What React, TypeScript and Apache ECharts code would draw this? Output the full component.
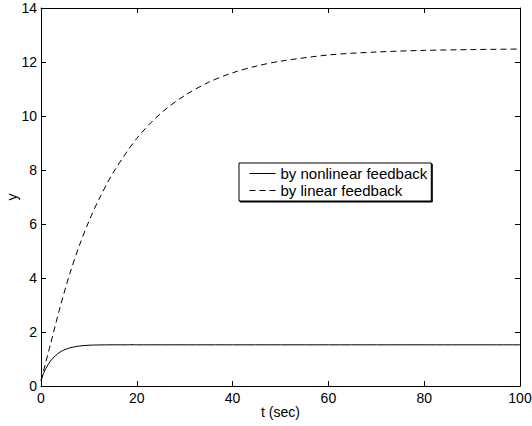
import React, { useEffect, useRef } from "react";
import * as echarts from "echarts";

const tNonlinear = [0, 0.5, 1, 2, 3, 4, 5, 6, 7, 8, 10, 12, 15, 18, 19, 20, 25, 40, 60, 80, 100];
const yNonlinear = [0.2, 0.45, 0.65, 0.93, 1.12, 1.26, 1.35, 1.41, 1.45, 1.48, 1.51, 1.52, 1.525, 1.525, 1.53, 1.525, 1.525, 1.525, 1.525, 1.525, 1.525];
const tLinear = [0, 2, 4, 6, 8, 10, 12, 15, 20, 25, 30, 35, 40, 45, 50, 60, 70, 80, 90, 100];
const yLinear = [0.2, 1.56, 2.93, 4.15, 5.2, 6.1, 6.88, 7.88, 9.17, 10.1, 10.76, 11.25, 11.6, 11.85, 12.03, 12.26, 12.37, 12.43, 12.46, 12.48];
const seriesNames = ["by nonlinear feedback", "by linear feedback"];
const xLabel = "t (sec)";
const yLabel = "y";

const FONT = "Liberation Sans, Arial, Helvetica, sans-serif";

export default function App() {
  const ref = useRef<HTMLDivElement>(null);
  useEffect(() => {
    if (!ref.current) return;
    const chart = echarts.init(ref.current, null, { renderer: "svg" });
    const axisCommon = {
      axisLine: { show: true, onZero: false, lineStyle: { color: "#000", width: 1 } },
      axisTick: { show: true, inside: true, length: 5, lineStyle: { color: "#000" } },
      splitLine: { show: false },
    };
    chart.setOption({
      animation: false,
      backgroundColor: "#fff",
      textStyle: { fontFamily: FONT },
      grid: { left: 41, top: 8, right: 12, bottom: 40, containLabel: false, outerBoundsMode: "none" },
      legend: {
        orient: "vertical",
        left: 239,
        top: 163,
        borderColor: "#000",
        borderWidth: 1,
        backgroundColor: "#fff",
        padding: [3, 4, 3, 10],
        itemWidth: 26,
        itemHeight: 10,
        itemGap: 2,
        borderRadius: 0,
        textStyle: { fontSize: 15, color: "#000", fontFamily: FONT },
        data: seriesNames,
        itemStyle: { opacity: 0 },
        lineStyle: { width: 1 },
        shadowColor: "rgba(0,0,0,1)",
        shadowOffsetX: 1,
        shadowOffsetY: 1,
      },
      xAxis: [
        {
          type: "value",
          min: 0,
          max: 100,
          interval: 20,
          position: "bottom",
          name: xLabel,
          nameLocation: "middle",
          nameGap: 19,
          nameMoveOverlap: false,
          nameTextStyle: { fontSize: 14, color: "#000", fontFamily: FONT },
          axisLabel: { fontSize: 14, color: "#000", margin: 5, fontFamily: FONT },
          ...axisCommon,
        },
        {
          type: "value",
          min: 0,
          max: 100,
          interval: 20,
          position: "top",
          axisLabel: { show: false },
          ...axisCommon,
        },
      ],
      yAxis: [
        {
          type: "value",
          min: 0,
          max: 14,
          interval: 2,
          position: "left",
          name: yLabel,
          nameLocation: "middle",
          nameGap: 22,
          nameMoveOverlap: false,
          nameTextStyle: { fontSize: 14, color: "#000", fontFamily: FONT },
          axisLabel: { fontSize: 14, color: "#000", margin: 4, fontFamily: FONT },
          ...axisCommon,
        },
        {
          type: "value",
          min: 0,
          max: 14,
          interval: 2,
          position: "right",
          axisLabel: { show: false },
          ...axisCommon,
        },
      ],
      series: [
        {
          name: seriesNames[0],
          type: "line",
          data: tNonlinear.map((t, i) => [t, yNonlinear[i]]),
          showSymbol: false,
          symbol: "none",
          smooth: 0.3,
          lineStyle: { color: "#000", width: 1, type: "solid" },
          itemStyle: { color: "#000" },
        },
        {
          name: seriesNames[1],
          type: "line",
          data: tLinear.map((t, i) => [t, yLinear[i]]),
          showSymbol: false,
          symbol: "none",
          smooth: 0.3,
          lineStyle: { color: "#000", width: 1, type: [6, 4] },
          itemStyle: { color: "#000" },
        },
      ],
    });
    return () => chart.dispose();
  }, []);
  return (
    <div
      ref={ref}
      style={{ position: "absolute", left: 0, top: 0, width: 532, height: 426 }}
    />
  );
}
